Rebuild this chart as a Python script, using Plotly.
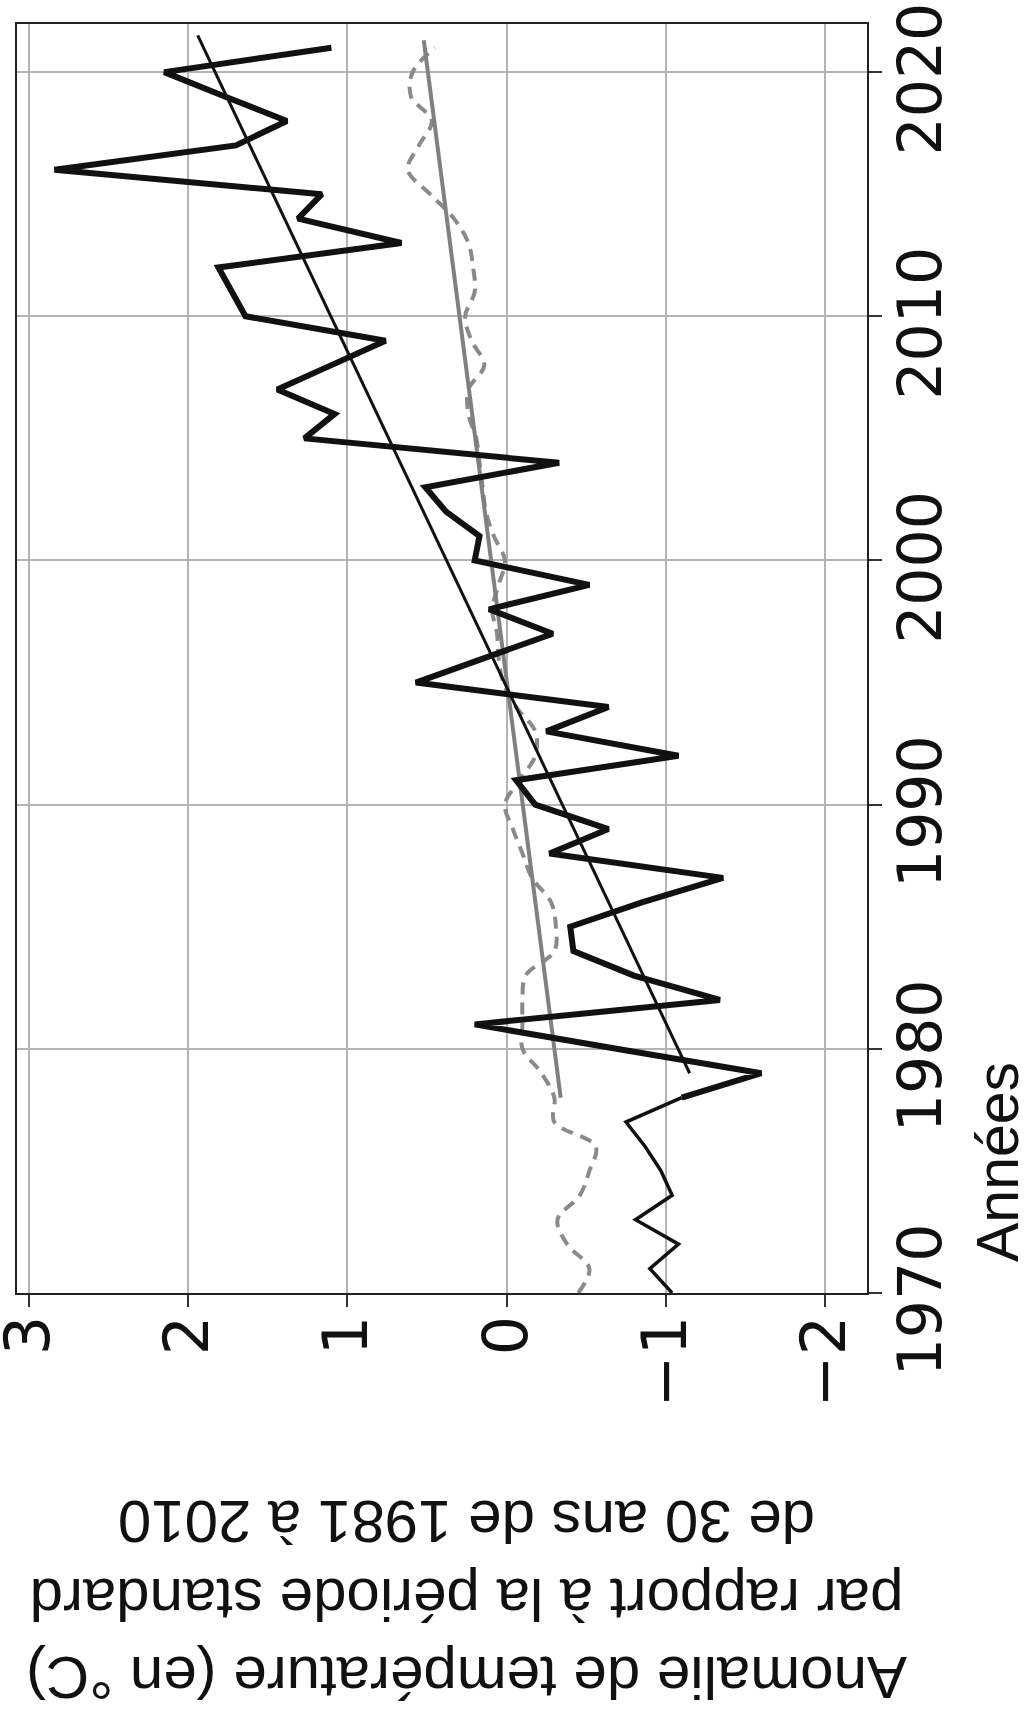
import plotly.graph_objects as go

# Annual temperature anomaly (°C, vs 1981-2010 normal)
years_early = [1970, 1971, 1972, 1973, 1974, 1975, 1976, 1977, 1978]
anom_early = [-1.04, -0.90, -1.08, -0.81, -1.04, -0.97, -0.87, -0.75, -1.10]

years_main = list(range(1978, 2022))
anom_main = [-1.10, -1.60, -0.69, 0.20, -1.34, -0.80, -0.42, -0.40, -0.85, -1.36,
             -0.27, -0.64, -0.18, -0.06, -1.08, -0.25, -0.64, 0.57, 0.14, -0.29,
             0.11, -0.52, 0.20, 0.17, 0.38, 0.51, -0.33, 1.27, 1.08, 1.44,
             1.10, 0.76, 1.64, 1.72, 1.81, 0.66, 1.31, 1.16, 2.84, 1.70,
             1.38, 1.77, 2.15, 1.10]

# Linear trend of the annual series
trend_years = [1979, 2021.5]
trend_anom = [-1.15, 1.94]

# Smoothed reference series (dashed) and its trend
ref_years = list(range(1970, 2022))
ref_anom = [-0.45, -0.52, -0.38, -0.32, -0.46, -0.52, -0.56, -0.30, -0.30, -0.22,
            -0.10, -0.10, -0.10, -0.12, -0.30, -0.31, -0.28, -0.16, -0.10, -0.04,
            0.01, -0.08, -0.18, -0.18, -0.06, 0.02, 0.05, 0.06, 0.09, 0.05,
            0.01, 0.08, 0.13, 0.15, 0.17, 0.19, 0.24, 0.24, 0.14, 0.22,
            0.26, 0.20, 0.21, 0.24, 0.33, 0.48, 0.62, 0.55, 0.47, 0.60,
            0.59, 0.45]
ref_trend_years = [1978, 2021.3]
ref_trend_anom = [-0.34, 0.52]

anom_ticks = [-2, -1, 0, 1, 2, 3]
year_ticks = [1970, 1980, 1990, 2000, 2010, 2020]

x_title = "Années"
y_title = "Anomalie de température (en °C)<br>par rapport à la période standard<br>de 30 ans de 1981 à 2010"

fig = go.Figure()

fig.add_trace(go.Scatter(x=ref_anom, y=ref_years, mode="lines", line_shape="spline",
                         line=dict(color="#8a8a8a", width=4, dash="12px,8px")))
fig.add_trace(go.Scatter(x=ref_trend_anom, y=ref_trend_years, mode="lines",
                         line=dict(color="#808080", width=4)))
fig.add_trace(go.Scatter(x=anom_early, y=years_early, mode="lines",
                         line=dict(color="#111111", width=3.5)))
fig.add_trace(go.Scatter(x=anom_main, y=years_main, mode="lines",
                         line=dict(color="#111111", width=6)))
fig.add_trace(go.Scatter(x=trend_anom, y=trend_years, mode="lines",
                         line=dict(color="#111111", width=3)))

fig.update_xaxes(range=[3.075, -2.264], tickvals=anom_ticks, tickangle=-90,
                 ticks="outside", ticklen=12, tickwidth=2, tickcolor="#333333",
                 showline=True, linecolor="#222222", linewidth=2, mirror=True,
                 showgrid=True, gridcolor="#b4b4b4", gridwidth=2, zeroline=False,
                 tickfont=dict(family="DejaVu Sans", size=62, color="#111111"),
                 ticklabeloverflow="allow", ticklabelstandoff=-16, automargin=False)
fig.update_yaxes(range=[1970, 2021.97], tickvals=year_ticks, tickangle=-90, side="right",
                 ticks="outside", ticklen=13, tickwidth=2, tickcolor="#333333",
                 showline=True, linecolor="#222222", linewidth=2, mirror=True,
                 showgrid=True, gridcolor="#b4b4b4", gridwidth=2, zeroline=False,
                 tickfont=dict(family="DejaVu Sans", size=60, color="#111111"),
                 ticklabeloverflow="allow", ticklabelstandoff=-13,
                 ticklabelshift=16, automargin=False)

fig.add_annotation(text=x_title, textangle=-90, xref="paper", yref="paper",
                   x=(998 - 17) / 850, y=(1293 - 1162) / 1269, xanchor="center",
                   yanchor="middle", showarrow=False,
                   font=dict(family="Liberation Sans, Arial", size=59, color="#111111"))
fig.add_annotation(text=y_title, textangle=180, xref="paper", yref="paper",
                   x=(466 - 17) / 850, y=-(1600 - 1293) / 1269, xanchor="center",
                   yanchor="middle", showarrow=False,
                   font=dict(family="Liberation Sans, Arial", size=60, color="#111111"))

fig.update_layout(width=1025, height=1722, showlegend=False,
                  margin=dict(l=17, r=158, t=24, b=429, autoexpand=False),
                  paper_bgcolor="white", plot_bgcolor="white")

fig.write_html("out.html")
